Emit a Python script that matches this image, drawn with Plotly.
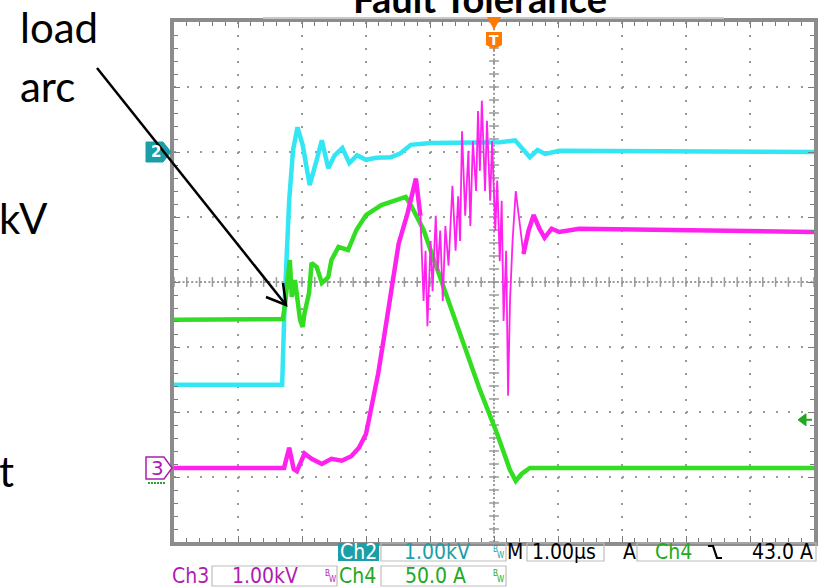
import numpy as np
import plotly.graph_objects as go

# ---------------- data (time in µs, 1 µs/div, trigger at t = 0) ----------------
# Ch2 : voltage, 1.00 kV/div
ch2_t = [-5.0, -3.31, -3.27, -3.20, -3.14, -3.07, -2.99, -2.88, -2.77, -2.69, -2.59, -2.49,
         -2.37, -2.26, -2.14, -2.00, -1.84, -1.61, -1.46, -1.30, -0.99, -0.53, 0.09, 0.33,
         0.43, 0.56, 0.68, 0.80, 1.02, 5.0]
ch2_kv = [-3.58, -3.58, -2.28, -0.74, 0.03, 0.38, 0.11, -0.51, -0.12, 0.18, -0.25, -0.05,
          0.06, -0.17, -0.05, -0.12, -0.09, -0.08, -0.02, 0.11, 0.14, 0.15, 0.15, 0.18,
          0.06, -0.08, 0.03, -0.03, 0.02, 0.0]

# Ch4 : current, 50.0 A/div
ch4_t = [-5.0, -3.30, -3.27, -3.19, -3.16, -3.11, -3.03, -2.99, -2.96, -2.89, -2.85, -2.77,
         -2.69, -2.59, -2.54, -2.43, -2.28, -2.15, -2.00, -1.76, -1.53, -1.38, -1.30, -1.10,
         -0.91, -0.53, -0.22, 0.05, 0.25, 0.34, 0.43, 0.56, 5.0]
ch4_a = [120, 120.5, 129.8, 165.9, 137.5, 150.5, 119.8, 114.4, 125.2, 140.5, 163.6, 160.5,
         148.2, 152.8, 165.9, 175.9, 173.6, 189, 200.5, 208.2, 212, 214.4, 208.2, 189,
         162, 108.2, 66, 32.1, 4.4, -4, 1.3, 6, 6]

# Ch3 : voltage, 1.00 kV/div
ch3_t = [-5.0, -3.28, -3.20, -3.13, -3.08, -2.96, -2.85, -2.69, -2.54, -2.38, -2.23, -2.11,
         -2.00, -1.92, -1.81, -1.72, -1.58, -1.49, -1.35, -1.22, -1.15, -1.10, -1.07, -1.04,
         -0.99, -0.96, -0.91, -0.88, -0.84, -0.80, -0.76, -0.71, -0.65, -0.60, -0.56, -0.53,
         -0.50, -0.45, -0.40, -0.37, -0.33, -0.28, -0.25, -0.22, -0.19, -0.14, -0.11, -0.06,
         -0.03, 0.02, 0.05, 0.09, 0.12, 0.15, 0.19, 0.22, 0.25, 0.29, 0.34, 0.40, 0.46, 0.54,
         0.62, 0.71, 0.79, 0.90, 1.02, 1.33, 5.0]
ch3_kv = [0.0, 0.0, 0.31, -0.02, -0.05, 0.22, 0.14, 0.06, 0.14, 0.11, 0.18, 0.31,
          0.52, 0.88, 1.45, 2.0, 2.88, 3.45, 3.92, 4.45, 3.88, 2.57, 3.34, 2.18,
          3.49, 2.72, 3.88, 3.03, 3.65, 2.57, 3.72, 3.11, 4.34, 3.34, 4.18, 3.49,
          5.18, 3.88, 4.88, 3.72, 5.03, 4.26, 5.49, 4.57, 5.65, 4.26, 5.34, 4.11,
          5.03, 3.65, 4.42, 3.18, 4.11, 2.26, 3.34, 1.11, 2.57, 3.49, 4.26, 3.80, 3.29, 3.65,
          3.89, 3.68, 3.54, 3.68, 3.63, 3.68, 3.63]

# channel settings: screen position (div) and scale (units/div)
CH2_POS, CH2_SCALE = 2.0, 1.0
CH3_POS, CH3_SCALE = -2.86, 1.0
CH4_POS, CH4_SCALE = -2.98, 50.0
TRIG_LEVEL_A = 43.0

# ---------------- layout geometry ----------------
W, H = 829, 588
L, R, T, B = 174, 814, 22, 542      # graticule in pixels


def px(x):
    return (x - L) / (R - L)


def py(y):
    return (B - y) / (B - T)


CYAN = "#33e6f4"
GREEN = "#33dd22"
MAGENTA = "#ff22ee"
TEAL = "#1b9ea6"
TXT_MAG = "#b01cb0"
TXT_GRN = "#22a822"
ORANGE = "#ff7a00"
GRID = "#9a9a9a"

fig = go.Figure()

# centre crosshair tick marks (graticule)
xs = np.round(np.arange(-5, 5.001, 0.2), 3)
ys = np.round(np.arange(-4, 4.001, 0.2), 3)
fig.add_trace(go.Scatter(x=xs, y=np.zeros_like(xs), mode="markers",
                         marker=dict(symbol="line-ns", size=7, line=dict(color=GRID, width=1.5)),
                         hoverinfo="skip"))
fig.add_trace(go.Scatter(x=np.zeros_like(ys), y=ys, mode="markers",
                         marker=dict(symbol="line-ew", size=7, line=dict(color=GRID, width=1.5)),
                         hoverinfo="skip"))

# traces (converted to screen divisions)
ch2_div = [CH2_POS + v / CH2_SCALE for v in ch2_kv]
ch4_div = [CH4_POS + v / CH4_SCALE for v in ch4_a]
ch3_div = [CH3_POS + v / CH3_SCALE for v in ch3_kv]

fig.add_trace(go.Scatter(x=ch2_t, y=ch2_div, mode="lines",
                         line=dict(color=CYAN, width=4.5), hoverinfo="skip"))
fig.add_trace(go.Scatter(x=ch4_t, y=ch4_div, mode="lines",
                         line=dict(color=GREEN, width=4.5), hoverinfo="skip"))
fig.add_trace(go.Scatter(x=ch3_t, y=ch3_div, mode="lines",
                         line=dict(color=MAGENTA, width=1.8), hoverinfo="skip"))
pre = [(t, v) for t, v in zip(ch3_t, ch3_div) if t <= -1.15]
post = [(t, v) for t, v in zip(ch3_t, ch3_div) if t >= 0.46]
for seg in (pre, post):
    fig.add_trace(go.Scatter(x=[s[0] for s in seg], y=[s[1] for s in seg], mode="lines",
                             line=dict(color=MAGENTA, width=4.5), hoverinfo="skip"))

shapes = []
# centre lines
shapes.append(dict(type="line", xref="x", yref="y", x0=-5, x1=5, y0=0, y1=0,
                   line=dict(color=GRID, width=2, dash="2px,2.3px"), layer="below"))
shapes.append(dict(type="line", xref="x", yref="y", x0=0, x1=0, y0=-4, y1=4,
                   line=dict(color=GRID, width=2, dash="2px,2.3px"), layer="below"))

# record bar above graticule
shapes.append(dict(type="line", xref="paper", yref="paper", x0=px(263), x1=px(724),
                   y0=py(18), y1=py(18), line=dict(color="#c8c8c8", width=2)))

# trigger position marker (T)
shapes.append(dict(type="path", xref="paper", yref="paper",
                   path=f"M{px(487)},{py(17)} L{px(501)},{py(17)} L{px(494)},{py(30)} Z",
                   fillcolor=ORANGE, line=dict(width=0)))
shapes.append(dict(type="path", xref="paper", yref="paper",
                   path=(f"M{px(486)},{py(32)} L{px(502)},{py(32)} L{px(502)},{py(45)} "
                         f"L{px(494)},{py(49)} L{px(486)},{py(45)} Z"),
                   fillcolor=ORANGE, line=dict(width=0)))

# Ch2 ground marker
shapes.append(dict(type="path", xref="paper", yref="paper",
                   path=(f"M{px(146)},{py(142)} L{px(163)},{py(142)} L{px(171)},{py(152)} "
                         f"L{px(163)},{py(162)} L{px(146)},{py(162)} Z"),
                   fillcolor=TEAL, line=dict(color=TEAL, width=1)))
# Ch3 ground marker
shapes.append(dict(type="path", xref="paper", yref="paper",
                   path=(f"M{px(146)},{py(457)} L{px(164)},{py(457)} L{px(172)},{py(468)} "
                         f"L{px(164)},{py(479)} L{px(146)},{py(479)} Z"),
                   fillcolor="white", line=dict(color=TXT_MAG, width=1.5)))
shapes.append(dict(type="line", xref="paper", yref="paper", x0=px(148), x1=px(166),
                   y0=py(483), y1=py(483), line=dict(color=TXT_GRN, width=2, dash="2px,1px")))

# trigger level marker (Ch4, 43 A)
trig_div = CH4_POS + TRIG_LEVEL_A / CH4_SCALE
tl = py(B - (trig_div + 4) / 8 * (B - T))
shapes.append(dict(type="path", xref="paper", yref="paper",
                   path=f"M{px(798)},{tl} L{px(806)},{tl + 6/520} L{px(806)},{tl - 6/520} Z",
                   fillcolor=TXT_GRN, line=dict(color=TXT_GRN, width=1)))
shapes.append(dict(type="line", xref="paper", yref="paper", x0=px(805), x1=px(812),
                   y0=tl, y1=tl, line=dict(color=TXT_GRN, width=2)))

# annotation arrow (tail -> head) with open V head
hx, hy = 286, 305
shapes.append(dict(type="line", xref="paper", yref="paper", x0=px(97), y0=py(68),
                   x1=px(hx), y1=py(hy), line=dict(color="black", width=2.5)))
shapes.append(dict(type="path", xref="paper", yref="paper",
                   path=f"M{px(283)},{py(283)} L{px(hx)},{py(hy)} L{px(266)},{py(297)}",
                   line=dict(color="black", width=2.5)))

# readout boxes
BOX = "#bdbdbd"
for x0, x1, y0, y1 in [(381, 506, 543, 561), (527, 604, 543, 561), (637, 816, 543, 561),
                       (212, 337, 566, 586), (381, 506, 566, 586)]:
    shapes.append(dict(type="rect", xref="paper", yref="paper", x0=px(x0), x1=px(x1),
                       y0=py(y0), y1=py(y1), line=dict(color=BOX, width=1.2)))
shapes.append(dict(type="rect", xref="paper", yref="paper", x0=px(338), x1=px(379),
                   y0=py(543), y1=py(561), fillcolor=TEAL, line=dict(width=0)))
# falling-edge trigger slope symbol
shapes.append(dict(type="path", xref="paper", yref="paper",
                   path=(f"M{px(708)},{py(546)} L{px(713)},{py(546)} L{px(717)},{py(558)} "
                         f"L{px(722)},{py(558)}"),
                   line=dict(color="black", width=2.2)))

RF = "DejaVu Sans Condensed, Roboto, sans-serif"
ann = []


def text(s, x, y, color, size=21, anchor="center", family=RF, bold=False):
    ann.append(dict(text=f"<b>{s}</b>" if bold else s, x=px(x), y=py(y), xref="paper",
                    yref="paper", showarrow=False, xanchor=anchor, yanchor="middle",
                    font=dict(family=family, size=size, color=color)))


def bw(x, y, color):
    text("B", x - 2.5, y - 3, color, size=8)
    text("W", x + 2.5, y + 3, color, size=8)


# row 1
text("Ch2", 358.5, 552, "white")
text("1.00kV", 437, 552, TEAL)
bw(498, 552, TEAL)
text("M", 515, 552, "black")
text("1.00µs", 564, 552, "black")
text("A", 629, 552, "black")
text("Ch4", 673, 552, TXT_GRN)
text("43.0 A", 815, 552, "black", anchor="right")
# row 2
text("Ch3", 190, 576, TXT_MAG)
text("1.00kV", 265, 576, TXT_MAG)
bw(330, 576, TXT_MAG)
text("Ch4", 357, 576, TXT_GRN)
text("50.0 A", 435, 576, TXT_GRN)
bw(498, 576, TXT_GRN)

# markers' glyphs
text("2", 156, 152, "white", size=15, family="DejaVu Sans", bold=True)
text("3", 157, 468, TXT_MAG, size=20, family="DejaVu Sans")
text("T", 494, 40, "white", size=14, family="DejaVu Sans", bold=True)

# slide texts (partially outside the screenshot, as in the original)
SF = "Lato, Open Sans, sans-serif"
ann.append(dict(text="<b>Fault Tolerance</b>", x=px(480), y=py(23), xref="paper", yref="paper",
                showarrow=False, xanchor="center", yanchor="bottom",
                font=dict(family=SF, size=38, color="black")))
for s, x, y in [("load", 18, 27), ("arc", 18, 86), ("kV", -3, 218), ("t", -3, 471)]:
    ann.append(dict(text=s, x=px(x), y=py(y), xref="paper", yref="paper", showarrow=False,
                    xanchor="left", yanchor="middle",
                    font=dict(family=SF, size=42, color="black")))

axis_common = dict(showticklabels=False, showline=True, linecolor="#8c8c8c", linewidth=4,
                   mirror="allticks", ticks="inside", ticklen=6, tickwidth=1,
                   tickcolor="#7a7a7a", zeroline=False, showgrid=True, gridcolor=GRID,
                   gridwidth=2, fixedrange=True)

fig.update_layout(
    width=W, height=H,
    margin=dict(l=L, r=W - R, t=T, b=H - B),
    paper_bgcolor="white", plot_bgcolor="white",
    showlegend=False,
    xaxis=dict(range=[-5, 5], dtick=1, tick0=0, griddash="2px,11px",
               minor=dict(dtick=0.2, ticks="inside", ticklen=4, tickcolor="#7a7a7a",
                          showgrid=False),
               **axis_common),
    yaxis=dict(range=[-4, 4], dtick=1, tick0=0, griddash="2px,10.8px",
               minor=dict(dtick=0.2, ticks="inside", ticklen=4, tickcolor="#7a7a7a",
                          showgrid=False),
               **axis_common),
    shapes=shapes,
    annotations=ann,
)

fig.write_html("out.html")
